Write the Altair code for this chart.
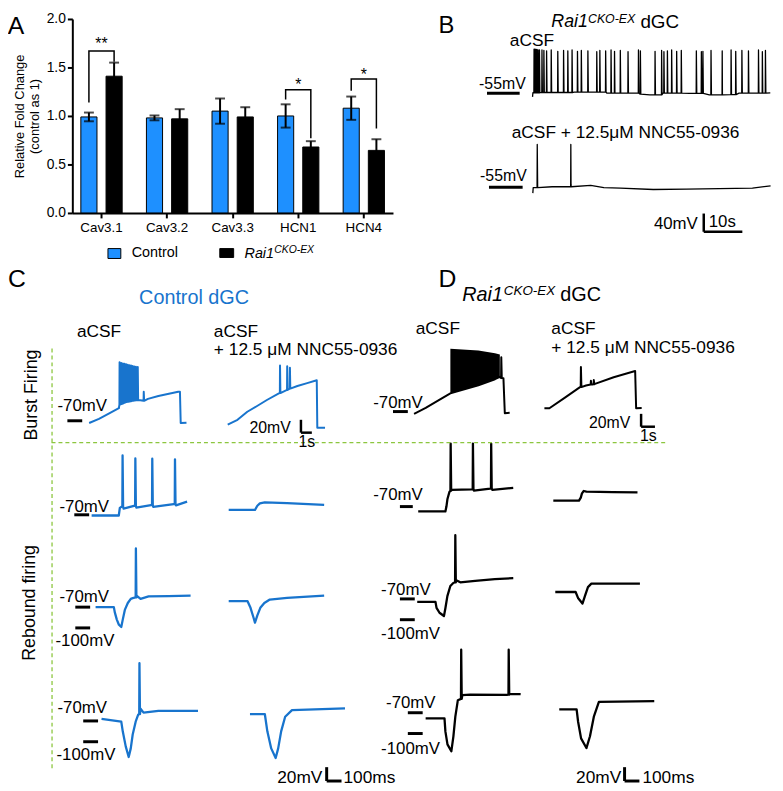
import altair as alt
import pandas as pd

# ======================= values =======================
# Panel A : relative fold change (control = 1)
genes = ["Cav3.1", "Cav3.2", "Cav3.3", "HCN1", "HCN4"]
groups = ["Control", "Rai1"]
control_mean = [0.99, 0.98, 1.05, 1.00, 1.08]
control_err = [0.045, 0.025, 0.13, 0.12, 0.12]
rai1_mean = [1.41, 0.97, 0.99, 0.68, 0.645]
rai1_err = [0.14, 0.10, 0.10, 0.06, 0.115]
yticks_A = [0.0, 0.5, 1.0, 1.5, 2.0]

sig_genes = ["Cav3.1", "HCN1", "HCN4"]
sig_marks = ["**", "*", "*"]
sig_top = [1.67, 1.27, 1.38]
sig_left_end = [1.14, 1.17, 1.26]
sig_right_end = [1.56, 0.77, 0.87]
sig_text_y = [1.74, 1.32, 1.42]

# Panel B : Rai1 CKO-EX dGC, spontaneous firing (time s, Vm mV)
b1_base_t = [0, 0.1, 2.2, 10.8, 19.3, 27.9, 30.4, 33.8, 40.7, 45.8, 49.2, 53.5, 61.6]
b1_base_v = [-63, -54, -53.5, -52.8, -55, -57, -58.5, -55, -55.5, -58.5, -58, -55, -54.5]
b1_spike_t = [0.35, 0.6, 0.85, 1.1, 1.4, 1.75, 2.4, 2.9, 3.6, 4.8, 6.5, 8.0, 9.1, 10.2,
              11.6, 12.6, 14.3, 16.6, 17.4, 18.9, 20.3, 21.2, 22.7, 24.7, 27.4, 27.9,
              31.7, 33.4, 34.0, 34.9, 36.0, 37.3, 38.5, 42.4, 43.7, 44.1, 46.2, 49.1,
              51.4, 52.6, 54.2, 55.9, 58.5, 59.5, 60.3]
b1_spike_peak = [42, 42, 41, 41, 40, 40, 40, 39, 38, 40, 37, 39, 38, 40, 37, 39, 38, 36,
                 39, 38, 40, 37, 39, 36, 40, 38, 37, 39, 36, 38, 40, 37, 39, 38, 36, 37,
                 39, 38, 40, 37, 39, 38, 40, 36, 39]
b2_base_t = [0, 0.1, 5.0, 9.9, 15.0, 18.4, 22.7, 31.2, 39.8, 48.3, 56.9, 61.6]
b2_base_v = [-68, -56, -54, -50, -51, -56, -57, -60, -59, -58, -57, -52]
b2_spike_t = [1.1, 9.8]
b2_spike_peak = [39, 39]

# Panels C/D, burst firing (time s, Vm mV)
bc1_t = [0, 0.9, 1.8, 2.73, 4.55, 5.4, 6.36, 8.18, 8.34, 8.41, 8.94]
bc1_v = [-73.5, -67, -59, -50.5, -37.7, -36, -31.5, -25, -25, -73.5, -73]
bc1_spk_t = [2.78, 2.93, 3.08, 3.23, 3.38, 3.53, 3.68, 3.83, 3.98, 4.13, 4.28, 4.45, 5.0]
bc1_spk_p = [21, 20, 19, 18.5, 18, 17, 16.5, 16, 15, 14.5, 14, 13.5, -25]
bc1_spk_f = [-45, -44, -43, -42, -41, -40.5, -40, -39.5, -39, -38.5, -38, -38, -39]

bc2_t = [0, 0.9, 1.8, 2.7, 3.6, 4.7, 5.75, 6.4, 7.3, 8.18, 8.23, 8.94]
bc2_v = [-76, -68.5, -56, -47, -37.7, -27.4, -19.7, -16, -11.5, -7, -81, -81]
bc2_spk_t = [4.79, 5.45, 5.7]
bc2_spk_p = [16, 14.6, 12.3]
bc2_spk_f = [-27, -22, -20]

bd1_t = [0, 0.84, 1.91, 2.62, 4.64, 5.84, 6.19, 6.45, 6.55, 6.9]
bd1_v = [-73.5, -64.3, -50.5, -41.7, -29, -19.7, -16, -18, -72.5, -72]
bd1_spk_t = [6.28]
bd1_spk_p = [14.6]
bd1_spk_f = [-18]
bd1_block_t = [2.62, 4.64, 5.84, 6.19]
bd1_block_top = [27.5, 25, 20.8, 18.8]
bd1_block_bot = [-41.7, -29, -19.7, -16]

bd2_t = [0, 0.36, 1.43, 2.57, 3.0, 3.45, 3.65, 5.0, 6.55, 6.62, 7.02]
bd2_v = [-64.8, -64.8, -49, -32, -29.5, -28, -27, -16.6, -7, -64.8, -64.5]
bd2_spk_t = [2.62, 3.34, 3.55]
bd2_spk_p = [-0.8, -22, -21]
bd2_spk_f = [-32, -28, -27.5]

# Panels C/D, rebound firing (time ms, Vm mV)
r2c1_t = [0, 183, 190, 200, 215, 285, 301, 400, 415, 553, 568, 643]
r2c1_v = [-71, -71, -60, -58.5, -61, -57, -59.5, -56, -58.5, -54.5, -56.5, -51]
r2c1_spk_t = [207, 293, 407, 560]
r2c1_spk_p = [15.7, 11.4, 11, 10]
r2c1_spk_f = [-58, -57, -56, -54.5]
r2c2_t = [0, 177, 193, 210, 243, 393, 643]
r2c2_v = [-63, -63, -57, -53.5, -52, -53, -55.7]
r2d1_t = [0, 183, 190, 197, 210, 225, 360, 375, 485, 500, 640]
r2d1_v = [-77, -77, -70, -59, -49, -46, -45, -47, -44, -46, -43]
r2d1_spk_t = [217, 367, 490]
r2d1_spk_p = [21, 21, 21]
r2d1_spk_f = [-47, -45, -44]
r2d2_t = [0, 173, 185, 193, 205, 223, 400, 567]
r2d2_v = [-61.4, -61.4, -57, -51, -47.5, -48.5, -49, -49.4]

r3c1_t = [0, 123, 130, 143, 157, 173, 183, 197, 217, 237, 250, 280, 303, 357, 490, 640]
r3c1_v = [-70, -70, -78, -88, -95.4, -98.6, -88, -74, -64, -58, -57, -54, -58, -54.6, -54, -53.4]
r3c1_spk_t = [270]
r3c1_spk_p = [14.7]
r3c1_spk_f = [-56]
r3c2_t = [0, 127, 147, 167, 177, 193, 213, 240, 277, 393, 643]
r3c2_v = [-61.4, -61.4, -71, -85, -92.4, -82, -71, -64, -59, -56.7, -53.4]
r3d1_t = [0, 123, 130, 150, 180, 190, 203, 223, 243, 263, 290, 390, 523, 647]
r3d1_v = [-74.3, -74.3, -83, -90, -94.7, -83, -66, -51.4, -47, -43, -46, -44, -41.4, -40]
r3d1_spk_t = [255]
r3d1_spk_p = [22]
r3d1_spk_f = [-46]
r3d2_t = [0, 137, 153, 183, 200, 220, 243, 570]
r3d2_v = [-60, -60, -68.6, -76.7, -65.7, -52.9, -48, -48]

r4c1_t = [0, 133, 143, 163, 183, 197, 210, 230, 247, 263, 283, 383, 650]
r4c1_v = [-67, -71, -85, -106.7, -122, -109.6, -89.6, -71, -61, -52.4, -58, -55.3, -55.3]
r4c1_spk_t = [254]
r4c1_spk_p = [13.3]
r4c1_spk_f = [-60]
r4c2_t = [0, 100, 117, 143, 173, 190, 210, 237, 283, 640]
r4c2_v = [-60, -60, -85, -109.6, -123.4, -109.6, -85, -64, -54.3, -52]
r4d1_t = [0, 127, 133, 147, 173, 187, 200, 217, 247, 300, 547, 567, 640]
r4d1_v = [-78.1, -78.1, -97, -115.7, -125.7, -104, -75.7, -51.9, -44.7, -43.9, -44.3, -42.7, -43.3]
r4d1_spk_t = [238, 558]
r4d1_spk_p = [21, 21]
r4d1_spk_f = [-50, -44]
r4d2_t = [0, 117, 127, 147, 183, 207, 233, 267, 640]
r4d2_v = [-65.3, -65.3, -83, -107, -121, -104, -75.7, -54.3, -53.3]

# ======================= layout / style =======================
W, H = 775, 783
FONT = "Liberation Sans"
BLUE_BAR = "#1E90FF"
BLUE = "#1874CD"
GREEN = "#8CC63F"
DUMMY = pd.DataFrame({"a": [0]})


def X(p):
    return p - 8


def Y(p):
    return p - 8


# trace placement: (pixel x of t=0, pixel y of v_ref, v_ref, px per time unit, px per mV)
LAY = {
    "b1": (538, 90, -55, 3.9, 0.46), "b2": (538.3, 185, -55, 3.9, 0.46),
    "bc1": (90, 421, -70, 11, 0.65), "bc2": (230, 421, -70, 11, 0.65),
    "bd1": (418.3, 411.7, -70, 14, 0.65), "bd2": (550, 411.7, -70, 14, 0.65),
    "r2c1": (92.5, 516, -70, 0.15, 0.7), "r2c2": (231, 516, -70, 0.15, 0.7),
    "r2d1": (422.5, 507.7, -70, 0.15, 0.7), "r2d2": (559, 507.7, -70, 0.15, 0.7),
    "r3c1": (96.5, 609.3, -70, 0.15, 0.7), "r3c2": (231, 609.3, -70, 0.15, 0.7),
    "r3d1": (421.5, 601, -70, 0.15, 0.7), "r3d2": (561, 601, -70, 0.15, 0.7),
    "r4c1": (102.5, 724.3, -70, 0.15, 0.7), "r4c2": (252.5, 724.3, -70, 0.15, 0.7),
    "r4d1": (430, 716, -70, 0.15, 0.7), "r4d2": (565, 716, -70, 0.15, 0.7),
}


def build_trace(bt, bv, st=(), sp=(), sf=None, w=1.0):
    pts = [(t, v) for t, v in zip(bt, bv)]
    for k, (ts, pk) in enumerate(zip(st, sp)):
        if sf is not None:
            f = sf[k]
        else:
            prev = [v for t, v in zip(bt, bv) if t <= ts]
            f = prev[-1] if prev else bv[0]
        pts += [(ts, f), (ts + 0.3 * w, pk), (ts + w, f)]
    pts.sort(key=lambda p: p[0])
    return pd.DataFrame({"t": [p[0] for p in pts], "v": [p[1] for p in pts],
                         "i": list(range(len(pts)))})


def trace_unit(key, df, color, sw, markers=(), bar=None, block=None):
    x0, y0, vref, kx, ky = LAY[key]
    xs = alt.Scale(domain=[0, 1], range=[X(x0), X(x0) + kx], nice=False, zero=False)
    ys = alt.Scale(domain=[vref, vref + 1], range=[Y(y0), Y(y0) - ky], nice=False, zero=False)
    layers = []
    if block is not None:
        layers.append(alt.Chart(block).mark_area(color=color, opacity=1).encode(
            x=alt.X("t:Q", scale=xs, axis=None),
            y=alt.Y("top:Q", scale=ys, axis=None), y2="bot:Q"))
    layers.append(alt.Chart(df).mark_line(color=color, strokeWidth=sw, strokeJoin="round").encode(
        x=alt.X("t:Q", scale=xs, axis=None),
        y=alt.Y("v:Q", scale=ys, axis=None), order="i:Q"))
    for (v, xa, xb) in markers:
        layers.append(alt.Chart(DUMMY).mark_rule(color="black", strokeWidth=3).encode(
            x=alt.value(X(xa)), x2=alt.value(X(xb)),
            y=alt.Y(datum=v, scale=ys, axis=None)))
    if bar is not None:
        cx, cy, dt, dv, bw = bar
        t0 = (cx - x0) / kx
        v0 = vref - (cy - y0) / ky
        layers.append(alt.Chart(DUMMY).mark_rule(color="black", strokeWidth=bw).encode(
            x=alt.X(datum=t0, scale=xs, axis=None),
            y=alt.Y(datum=v0, scale=ys, axis=None), y2=alt.Y2(datum=v0 + dv)))
        layers.append(alt.Chart(DUMMY).mark_rule(color="black", strokeWidth=bw).encode(
            x=alt.X(datum=t0, scale=xs, axis=None), x2=alt.X2(datum=t0 + dt),
            y=alt.Y(datum=v0, scale=ys, axis=None)))
    return alt.layer(*layers)


def txt(s, x, y, size, align="left", color="black", style="normal", angle=0):
    return alt.Chart(pd.DataFrame({"s": [s]})).mark_text(
        align=align, baseline="middle", fontSize=size, font=FONT, color=color,
        fontStyle=style, angle=angle).encode(x=alt.value(X(x)), y=alt.value(Y(y)), text="s:N")


def hline(x1, x2, y, color, width, dash=None):
    kw = dict(color=color, strokeWidth=width)
    if dash:
        kw["strokeDash"] = dash
    return alt.Chart(DUMMY).mark_rule(**kw).encode(
        x=alt.value(X(x1)), x2=alt.value(X(x2)), y=alt.value(Y(y)))


def vline(x, y1, y2, color, width, dash=None):
    kw = dict(color=color, strokeWidth=width)
    if dash:
        kw["strokeDash"] = dash
    return alt.Chart(DUMMY).mark_rule(**kw).encode(
        x=alt.value(X(x)), y=alt.value(Y(y1)), y2=alt.value(Y(y2)))


def box(x1, x2, y1, y2, fill):
    return alt.Chart(DUMMY).mark_rect(color=fill, stroke="black", strokeWidth=1).encode(
        x=alt.value(X(x1)), x2=alt.value(X(x2)), y=alt.value(Y(y1)), y2=alt.value(Y(y2)))


# ======================= Panel A =======================
bars = pd.DataFrame({
    "gene": genes * 2,
    "group": ["Control"] * 5 + ["Rai1"] * 5,
    "mean": control_mean + rai1_mean,
    "err": control_err + rai1_err,
})
bars["lo"] = bars["mean"] - bars["err"]
bars["hi"] = bars["mean"] + bars["err"]

br_rows = []
for k, g in enumerate(sig_genes):
    br_rows += [
        {"gene": g, "group": "Control", "y": sig_left_end[k], "seq": 0, "id": k},
        {"gene": g, "group": "Control", "y": sig_top[k], "seq": 1, "id": k},
        {"gene": g, "group": "Rai1", "y": sig_top[k], "seq": 2, "id": k},
        {"gene": g, "group": "Rai1", "y": sig_right_end[k], "seq": 3, "id": k},
    ]
brackets = pd.DataFrame(br_rows)
stars = pd.DataFrame({"gene": sig_genes, "label": sig_marks, "y": sig_text_y})

xA = alt.Scale(domain=genes, range=[X(73), X(397)], paddingInner=0.37, paddingOuter=0.13)
yA = alt.Scale(domain=[0, 2], range=[Y(211), Y(15)], nice=False, zero=False)
offA = alt.Scale(domain=groups, paddingInner=0.36, paddingOuter=0)
axX = alt.Axis(orient="bottom", offset=Y(211) - H, title=None, labelFont=FONT,
               labelFontSize=13.5, labelColor="black", labelPadding=3, labelAngle=0,
               tickSize=5, tickWidth=2, tickColor="black", domainWidth=2,
               domainColor="black", grid=False)
axY = alt.Axis(orient="left", offset=-X(73), title=["Relative Fold Change", "(control as 1)"],
               titleFont=FONT, titleFontSize=13, titleFontWeight="normal",
               titleColor="black", titlePadding=5, labelFont=FONT, labelFontSize=14,
               labelColor="black", labelPadding=2, tickSize=5, tickWidth=2,
               tickColor="black", domainWidth=2, domainColor="black",
               values=yticks_A, format=".1f", grid=False)


def xg():
    return alt.X("gene:N", scale=xA, axis=axX)


def xo():
    return alt.XOffset("group:N", scale=offA)


barA = alt.Chart(bars).mark_bar(stroke="black", strokeWidth=1).encode(
    x=xg(), xOffset=xo(), y=alt.Y("mean:Q", scale=yA, axis=axY),
    color=alt.Color("group:N", scale=alt.Scale(domain=groups, range=[BLUE_BAR, "#000000"]),
                    legend=None))
errA = alt.Chart(bars).mark_rule(color="black", strokeWidth=2).encode(
    x=xg(), xOffset=xo(), y=alt.Y("lo:Q", scale=yA, axis=axY), y2="hi:Q")
capHi = alt.Chart(bars).mark_tick(color="black", size=10, thickness=2).encode(
    x=xg(), xOffset=xo(), y=alt.Y("hi:Q", scale=yA, axis=axY))
capLo = alt.Chart(bars).mark_tick(color="black", size=10, thickness=2).encode(
    x=xg(), xOffset=xo(), y=alt.Y("lo:Q", scale=yA, axis=axY))
brA = alt.Chart(brackets).mark_line(color="black", strokeWidth=1.5).encode(
    x=xg(), xOffset=xo(), y=alt.Y("y:Q", scale=yA, axis=axY),
    detail="id:N", order="seq:Q")
starA = alt.Chart(stars).mark_text(fontSize=16, font=FONT, color="black").encode(
    x=xg(), y=alt.Y("y:Q", scale=yA, axis=axY), text="label:N")
panelA = alt.layer(barA, errA, capHi, capLo, brA, starA)

annot = [
    txt("A", 16, 22, 25, align="center"),
    box(109, 122, 247, 257, BLUE_BAR), txt("Control", 133, 252, 14.5),
    box(222, 236, 247, 256, "#000000"),
    txt("Rai1", 247, 252.5, 14.5, style="italic"),
    txt("CKO-EX", 277, 248, 10.5, style="italic"),
    # Panel B
    txt("B", 451, 22, 24, align="center"),
    txt("Rai1", 557, 18, 18, style="italic"),
    txt("CKO-EX", 594, 15, 12.5, style="italic"),
    txt("dGC", 647, 18, 19),
    txt("aCSF", 515, 37, 17.5),
    txt("-55mV", 484, 80.5, 16),
    txt("aCSF + 12.5μM NNC55-0936", 517, 130, 17.5),
    txt("-55mV", 485, 174, 16),
    txt("40mV", 705, 222, 17, align="right"),
    txt("10s", 716, 220, 17),
    # Panels C / D
    txt("C", 17, 278, 25, align="center"),
    txt("D", 452, 278, 25, align="center"),
    txt("Control dGC", 196, 297, 20, align="center", color=BLUE),
    txt("Rai1", 467, 293.5, 20, style="italic"),
    txt("CKO-EX", 509, 289.5, 13.5, style="italic"),
    txt("dGC", 566, 293.5, 20),
    txt("aCSF", 100, 331, 17.5, align="center"),
    txt("aCSF", 216, 331, 17.5),
    txt("+ 12.5 μM NNC55-0936", 216, 350, 17.5),
    txt("aCSF", 420, 328, 17.5),
    txt("aCSF", 557, 328, 17.5),
    txt("+ 12.5 μM NNC55-0936", 557, 348, 17.5),
    txt("Burst Firing", 32, 395, 18, align="center", angle=270),
    txt("Rebound firing", 30, 605, 18, align="center", angle=270),
    vline(52.5, 348, 772, GREEN, 1.3, [4, 3]),
    hline(52, 673, 443, GREEN, 1.3, [4, 3]),
    txt("-70mV", 58, 406, 17), txt("-70mV", 377, 403, 17),
    txt("-70mV", 60, 507.7, 17), txt("-70mV", 377, 496, 17),
    txt("-70mV", 60, 599, 17), txt("-100mV", 56, 643.7, 17),
    txt("-70mV", 385, 592, 17), txt("-100mV", 385, 636, 17),
    txt("-70mV", 58, 711.7, 17), txt("-100mV", 57, 758.7, 17),
    txt("-70mV", 390, 706, 17), txt("-100mV", 385, 752.7, 17),
    txt("20mV", 252, 428, 16), txt("1s", 310, 443, 16, align="center"),
    txt("20mV", 595, 423, 16), txt("1s", 655, 436, 16, align="center"),
    txt("20mV", 280, 782, 17.5), txt("100ms", 347, 782, 17.5),
    txt("20mV", 582, 782, 17.5), txt("100ms", 649, 782, 17.5),
]

units = [
    trace_unit("b1", build_trace(b1_base_t, b1_base_v, b1_spike_t, b1_spike_peak, None, 0.15),
               "black", 1.3, markers=[(-55, 492, 525)]),
    trace_unit("b2", build_trace(b2_base_t, b2_base_v, b2_spike_t, b2_spike_peak, None, 0.15),
               "black", 1.3, markers=[(-55, 494, 528)], bar=(711, 230, 10, 40, 2.5)),
    trace_unit("bc1", build_trace(bc1_t, bc1_v, bc1_spk_t, bc1_spk_p, bc1_spk_f, 0.05),
               BLUE, 2, markers=[(-70, 68, 83)]),
    trace_unit("bc2", build_trace(bc2_t, bc2_v, bc2_spk_t, bc2_spk_p, bc2_spk_f, 0.05),
               BLUE, 2, bar=(304, 433, 1, 20, 2.5)),
    trace_unit("bd1", build_trace(bd1_t, bd1_v, bd1_spk_t, bd1_spk_p, bd1_spk_f, 0.05),
               "black", 2, markers=[(-70, 397, 412)],
               block=pd.DataFrame({"t": bd1_block_t, "top": bd1_block_top, "bot": bd1_block_bot})),
    trace_unit("bd2", build_trace(bd2_t, bd2_v, bd2_spk_t, bd2_spk_p, bd2_spk_f, 0.05),
               "black", 2, bar=(647.7, 427, 1, 20, 2.5)),
    trace_unit("r2c1", build_trace(r2c1_t, r2c1_v, r2c1_spk_t, r2c1_spk_p, r2c1_spk_f, 5),
               BLUE, 2.3, markers=[(-70, 75, 90)]),
    trace_unit("r2c2", build_trace(r2c2_t, r2c2_v), BLUE, 2.3),
    trace_unit("r2d1", build_trace(r2d1_t, r2d1_v, r2d1_spk_t, r2d1_spk_p, r2d1_spk_f, 5),
               "black", 2.3, markers=[(-70, 404, 417)]),
    trace_unit("r2d2", build_trace(r2d2_t, r2d2_v), "black", 2.3),
    trace_unit("r3c1", build_trace(r3c1_t, r3c1_v, r3c1_spk_t, r3c1_spk_p, r3c1_spk_f, 5),
               BLUE, 2.3, markers=[(-70, 76, 91), (-100, 76, 91)]),
    trace_unit("r3c2", build_trace(r3c2_t, r3c2_v), BLUE, 2.3),
    trace_unit("r3d1", build_trace(r3d1_t, r3d1_v, r3d1_spk_t, r3d1_spk_p, r3d1_spk_f, 5),
               "black", 2.3, markers=[(-70, 404, 419), (-100, 404, 419)]),
    trace_unit("r3d2", build_trace(r3d2_t, r3d2_v), "black", 2.3),
    trace_unit("r4c1", build_trace(r4c1_t, r4c1_v, r4c1_spk_t, r4c1_spk_p, r4c1_spk_f, 5),
               BLUE, 2.3, markers=[(-70, 84, 99), (-100, 84, 99)]),
    trace_unit("r4c2", build_trace(r4c2_t, r4c2_v), BLUE, 2.3, bar=(330, 785, 100, 20, 3)),
    trace_unit("r4d1", build_trace(r4d1_t, r4d1_v, r4d1_spk_t, r4d1_spk_p, r4d1_spk_f, 5),
               "black", 2.3, markers=[(-70, 412, 427), (-100, 412, 427)]),
    trace_unit("r4d2", build_trace(r4d2_t, r4d2_v), "black", 2.3, bar=(631, 785, 100, 20, 3)),
]

chart = alt.layer(panelA, *units, *annot).resolve_scale(
    x="independent", y="independent", color="independent"
).properties(
    width=W, height=H, autosize=alt.AutoSizeParams(type="none"), padding=0,
    background="white"
).configure_view(stroke=None)

chart.save("out.html", embed_options={"renderer": "svg", "actions": False})
